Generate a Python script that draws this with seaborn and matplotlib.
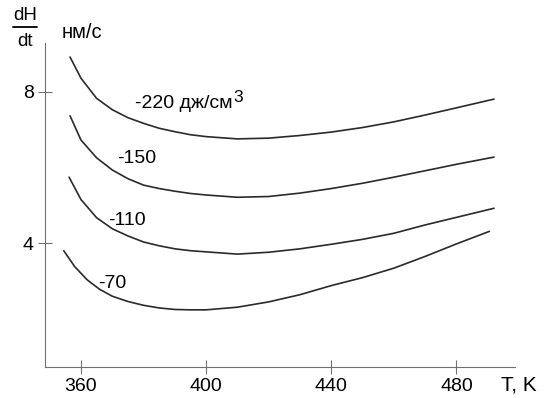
import numpy as np
import pandas as pd
import matplotlib
matplotlib.use("Agg")
import matplotlib.pyplot as plt
from matplotlib.lines import Line2D
import seaborn as sns

sns.set_theme(style="white")
plt.rcParams['font.family'] = ['Liberation Sans', 'DejaVu Sans']

# Data
t_220 = [356.5, 360, 365, 370, 375, 380, 385, 390, 395, 400, 410, 420, 430, 440, 450, 460, 470, 480, 492]
v_220 = [8.91, 8.35, 7.82, 7.52, 7.31, 7.16, 7.03, 6.94, 6.86, 6.81, 6.75, 6.77, 6.84, 6.93, 7.05, 7.20, 7.38, 7.57, 7.80]
t_150 = [356.5, 360, 365, 370, 375, 380, 385, 390, 395, 400, 410, 420, 430, 440, 450, 460, 470, 480, 492]
v_150 = [7.36, 6.72, 6.25, 5.93, 5.70, 5.53, 5.44, 5.37, 5.31, 5.27, 5.21, 5.23, 5.32, 5.44, 5.58, 5.74, 5.91, 6.08, 6.27]
t_110 = [356.2, 360, 365, 370, 375, 380, 385, 390, 395, 400, 410, 420, 430, 440, 450, 460, 470, 480, 492]
v_110 = [5.74, 5.15, 4.67, 4.38, 4.19, 4.03, 3.93, 3.85, 3.80, 3.77, 3.71, 3.76, 3.85, 3.97, 4.10, 4.26, 4.48, 4.68, 4.92]
t_70 = [354.5, 358, 362, 366, 370, 375, 380, 385, 390, 395, 400, 410, 420, 430, 440, 450, 460, 470, 480, 490.5]
v_70 = [3.80, 3.38, 3.03, 2.78, 2.60, 2.46, 2.36, 2.29, 2.25, 2.24, 2.24, 2.31, 2.45, 2.64, 2.88, 3.09, 3.34, 3.65, 3.98, 4.31]

series_names = ["-220", "-150", "-110", "-70"]
curve_labels = ["-220 дж/см", "-150", "-110", "-70"]
unit_power = "3"
label_pos = [(377.3, 7.57), (371.4, 6.11), (368.7, 4.48), (365.5, 2.81)]

x_ticks = [360, 400, 440, 480]
y_ticks = [4, 8]

frames = []
for name, t, v in zip(series_names, [t_220, t_150, t_110, t_70], [v_220, v_150, v_110, v_70]):
    frames.append(pd.DataFrame({"T": t, "v": v, "s": name}))
df = pd.concat(frames, ignore_index=True)

fig = plt.figure(figsize=(5.49, 3.98), dpi=100)
ax = fig.add_axes([45/549, 1 - 366.7/398, (515-45)/549, (366.7-43)/398])

sns.lineplot(data=df, x="T", y="v", hue="s", palette=["#2a2a2a"]*4,
             estimator=None, sort=False, legend=False, linewidth=1.2, ax=ax)

ax.set_xlim(348.5, 498.7)
ax.set_ylim(0.74, 9.28)
ax.set_xticks(x_ticks)
ax.set_yticks(y_ticks)
ax.set_xlabel("")
ax.set_ylabel("")
ax.tick_params(bottom=True, left=True, direction="inout", length=10, width=0.8,
               color="#707070", labelsize=14, pad=3.0, labelcolor="black")
for side in ["top", "right"]:
    ax.spines[side].set_visible(False)
for side in ["left", "bottom"]:
    ax.spines[side].set_color("#707070")
    ax.spines[side].set_linewidth(0.8)

texts = []
for lab, (x, y) in zip(curve_labels, label_pos):
    texts.append(ax.text(x, y, lab, ha="left", va="baseline", fontsize=14, color="black"))

# axis captions
fig.text(25/549, 1 - 15/398, "dH", ha="center", va="center", fontsize=13.5, color="black")
fig.text(25/549, 1 - 41/398, "dt", ha="center", va="center", fontsize=13.5, color="black")
fig.add_artist(Line2D([13/549, 37/549], [1 - 27/398, 1 - 27/398], color="black", linewidth=1.3))
fig.text(62/549, 1 - 33/398, "нм/с", ha="left", va="center", fontsize=14.5, color="black")
fig.text(519/549, 1 - 385/398, "T, K", ha="center", va="center", fontsize=15, color="black")

# superscript of the unit on the first label (placed after layout is final)
fig.canvas.draw()
bb = texts[0].get_window_extent()
y_base = ax.transData.transform(label_pos[0])[1]
inv = fig.transFigure.inverted()
fx, fy = inv.transform((bb.x1 + 0.5, y_base + 6))
fig.text(fx, fy, unit_power, ha="left", va="baseline", fontsize=12.5, color="black")

fig.savefig("out.png", dpi=100)
